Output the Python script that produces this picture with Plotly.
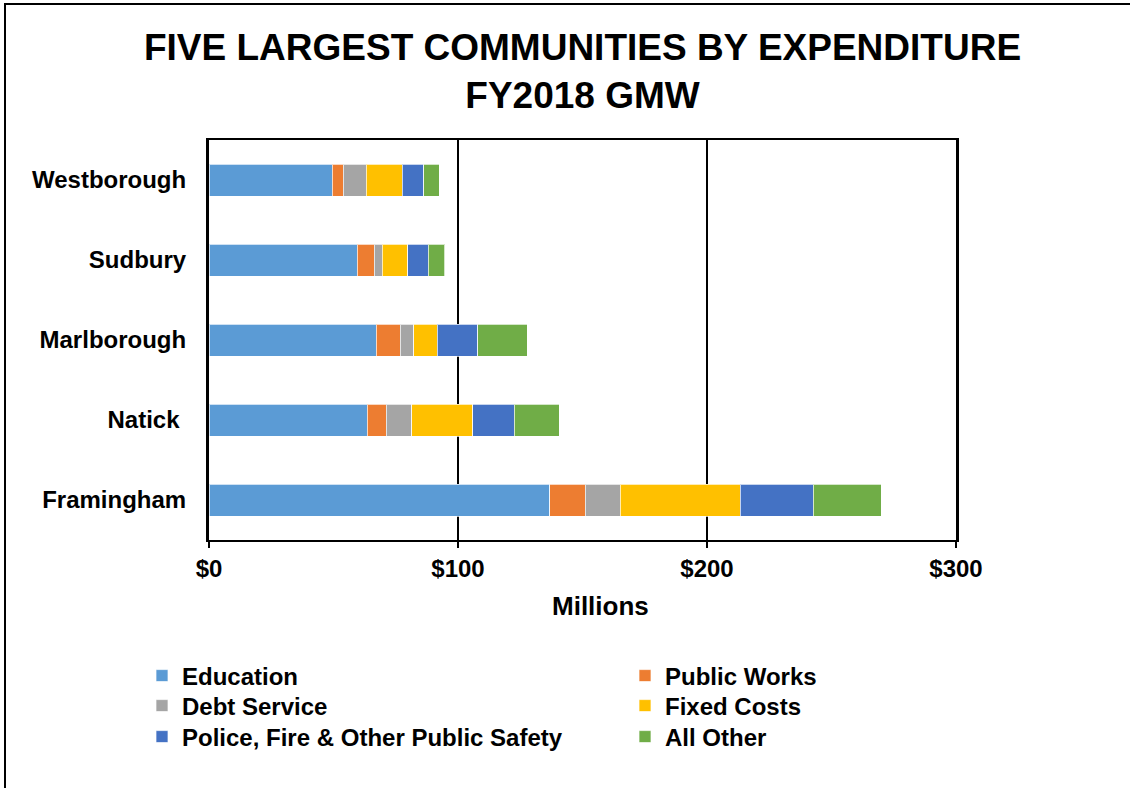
import plotly.graph_objects as go

# Communities, listed bottom to top as drawn on the category axis
communities = ["Framingham", "Natick ", "Marlborough", "Sudbury", "Westborough"]

# Expenditure by function, in millions of dollars
education = [136.9, 63.6, 67.2, 59.6, 49.5]
public_works = [14.2, 7.5, 9.6, 6.7, 4.4]
debt_service = [14.0, 10.4, 5.4, 3.3, 9.2]
fixed_costs = [48.2, 24.5, 9.4, 10.3, 14.5]
public_safety = [29.4, 16.6, 16.3, 8.1, 8.6]
all_other = [27.3, 18.0, 19.9, 6.7, 6.2]

x_ticks = [0, 100, 200, 300]
x_tick_labels = ["$0", "$100", "$200", "$300"]

series_names = ["Education", "Public Works", "Debt Service", "Fixed Costs",
                "Police, Fire & Other Public Safety", "All Other"]
series_values = [education, public_works, debt_service, fixed_costs, public_safety, all_other]
series_colors = ["#5B9BD5", "#ED7D31", "#A5A5A5", "#FFC000", "#4472C4", "#70AD47"]

FONT = "Liberation Sans, Arial, sans-serif"

W, H = 1130, 788
L, R, T, B = 209, 174, 140, 248
pw, ph = W - L - R, H - T - B


def px_x(p):
    return (p - L) / pw


def px_y(p):
    return (H - B - p) / ph


# Legend grid: two columns, three rows, one legend box per entry
legend_cols = [142, 625]
legend_rows = [676, 706, 737]

fig = go.Figure()
legend_layouts = {}
for i, (name, values, color) in enumerate(zip(series_names, series_values, series_colors)):
    key = "legend" if i == 0 else f"legend{i + 1}"
    fig.add_trace(go.Bar(
        y=communities, x=values, name=f"<b>{name}</b>", orientation="h",
        marker=dict(color=color, line=dict(color="rgba(255,255,255,0.7)", width=1)),
        legend=key, showlegend=True,
    ))
    legend_layouts[key] = dict(
        x=px_x(legend_cols[i % 2]), xanchor="left",
        y=px_y(legend_rows[i // 2]), yanchor="middle",
        orientation="v", font=dict(family=FONT, size=24, color="black"),
        bgcolor="rgba(0,0,0,0)", itemclick=False, itemdoubleclick=False,
        visible=True,
    )

fig.update_layout(
    width=W, height=H,
    margin=dict(l=L, r=R, t=T, b=B),
    paper_bgcolor="white", plot_bgcolor="white",
    showlegend=True,
    barmode="stack", bargap=0.6,
    font=dict(family=FONT, color="black"),
    title=dict(
        text="<b>FIVE LARGEST COMMUNITIES BY EXPENDITURE<br>FY2018 GMW</b>",
        x=0.5, xanchor="center", xref="paper",
        y=1 - 60 / H, yanchor="top",
        font=dict(family=FONT, size=37, color="black"),
    ),
    xaxis=dict(
        range=[0, 300], tickvals=x_ticks, ticktext=[f"<b>{t}</b>" for t in x_tick_labels],
        showgrid=True, gridcolor="black", gridwidth=2,
        showline=True, linecolor="black", linewidth=2, mirror=True,
        ticks="outside", ticklen=6, tickcolor="black", tickwidth=2,
        tickfont=dict(family=FONT, size=24, color="black"),
        zeroline=False, fixedrange=True,
    ),
    yaxis=dict(
        categoryorder="array", categoryarray=communities,
        tickvals=communities, ticktext=[f"<b>{c}</b>" for c in communities],
        showline=True, linecolor="black", linewidth=3, mirror=True,
        ticks="", ticklabelstandoff=15,
        tickfont=dict(family=FONT, size=24, color="black"),
        showgrid=False, fixedrange=True,
    ),
    annotations=[dict(
        text="<b>Millions</b>", xref="paper", yref="paper",
        x=px_x(600), y=px_y(606), xanchor="center", yanchor="middle",
        showarrow=False, font=dict(family=FONT, size=26, color="black"),
    )],
    shapes=[dict(
        type="rect", xref="paper", yref="paper",
        x0=px_x(5), x1=px_x(1140), y0=px_y(800), y1=px_y(4),
        line=dict(color="black", width=2), fillcolor="rgba(0,0,0,0)", layer="below",
    )],
    **legend_layouts,
)

fig.write_html("out.html")
